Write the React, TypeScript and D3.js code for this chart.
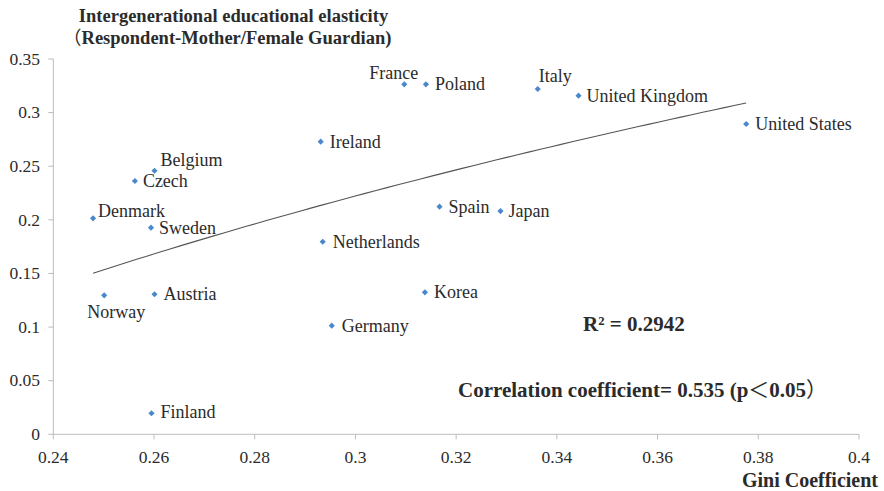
import React from "react";
import * as d3 from "d3";

// Countries with their Gini coefficient and intergenerational educational elasticity
const countries = [
  "France", "Poland", "Italy", "United Kingdom", "United States", "Ireland",
  "Belgium", "Czech", "Denmark", "Sweden", "Norway", "Austria",
  "Spain", "Japan", "Netherlands", "Korea", "Germany", "Finland",
];
const gini = [
  0.3097, 0.314, 0.3362, 0.3443, 0.3776, 0.2931,
  0.2601, 0.2562, 0.2479, 0.2594, 0.2501, 0.2601,
  0.3167, 0.3288, 0.2935, 0.3138, 0.2953, 0.2595,
];
const elasticity = [
  0.3264, 0.3264, 0.322, 0.3158, 0.2894, 0.2729,
  0.2458, 0.2362, 0.2014, 0.1927, 0.1296, 0.1306,
  0.2123, 0.2082, 0.1796, 0.1324, 0.1013, 0.0196,
];

const xTicks = [0.24, 0.26, 0.28, 0.3, 0.32, 0.34, 0.36, 0.38, 0.4];
const yTicks = [0, 0.05, 0.1, 0.15, 0.2, 0.25, 0.3, 0.35];

const titleLine1 = "Intergenerational educational elasticity";
const titleLine2 = ["（", "Respondent-Mother/Female Guardian)"];
const xTitle = "Gini Coefficient";
const rSquaredText = "R² = 0.2942";
const correlationParts = ["Correlation coefficient= 0.535 (p", "＜", "0.05", "）"];

// Where each country's label sits relative to its marker
const labelPlacement: Record<string, { dx: number; dy: number; anchor: string }> = {
  France: { dx: 14, dy: -5, anchor: "end" },
  Poland: { dx: 9, dy: 6, anchor: "start" },
  Italy: { dx: 1, dy: -7, anchor: "start" },
  "United Kingdom": { dx: 8, dy: 6, anchor: "start" },
  "United States": { dx: 9, dy: 6, anchor: "start" },
  Ireland: { dx: 9, dy: 6, anchor: "start" },
  Belgium: { dx: 6, dy: -5, anchor: "start" },
  Czech: { dx: 8, dy: 6, anchor: "start" },
  Denmark: { dx: 5, dy: -1, anchor: "start" },
  Sweden: { dx: 8, dy: 6, anchor: "start" },
  Norway: { dx: -17, dy: 23, anchor: "start" },
  Austria: { dx: 9, dy: 6, anchor: "start" },
  Spain: { dx: 9, dy: 6, anchor: "start" },
  Japan: { dx: 8, dy: 6, anchor: "start" },
  Netherlands: { dx: 10, dy: 6, anchor: "start" },
  Korea: { dx: 9, dy: 6, anchor: "start" },
  Germany: { dx: 10, dy: 6, anchor: "start" },
  Finland: { dx: 9, dy: 5, anchor: "start" },
};

const W = 884;
const H = 491;
const FONT = "Liberation Serif, DejaVu Serif, serif";
const CJK = "Noto Sans CJK SC, sans-serif";
const TEXT = "#2b2b2b";
const AXIS = "#bcbcbc";
const MARKER = "#4a88cc";

export default function App() {
  const x = d3.scaleLinear().domain([0.24, 0.4]).range([53.3, 859]);
  const y = d3.scaleLinear().domain([0, 0.35]).range([434.3, 59]);

  const points = countries.map((name, i) => ({ name, gx: gini[i], ey: elasticity[i] }));

  // Logarithmic trend line: elasticity = a * ln(gini) + b (least squares)
  const lx = points.map((p) => Math.log(p.gx));
  const mx = d3.mean(lx) as number;
  const my = d3.mean(points, (p) => p.ey) as number;
  let sxy = 0;
  let sxx = 0;
  points.forEach((p, i) => {
    sxy += (lx[i] - mx) * (p.ey - my);
    sxx += (lx[i] - mx) ** 2;
  });
  const a = sxy / sxx;
  const b = my - a * mx;
  const [gMin, gMax] = d3.extent(gini) as [number, number];
  const trendPts = d3.range(0, 61).map((k) => {
    const g = gMin + ((gMax - gMin) * k) / 60;
    return [g, a * Math.log(g) + b] as [number, number];
  });
  const trendPath = d3
    .line<[number, number]>()
    .x((d) => x(d[0]))
    .y((d) => y(d[1]))(trendPts) as string;

  const marker = d3.symbol().type(d3.symbolSquare).size(19)() as string;
  const fmt = (v: number) => String(+v.toFixed(2));

  const x0 = x.range()[0];
  const x1 = x.range()[1];
  const y0 = y.range()[0];
  const y1 = y.range()[1];

  return (
    <svg
      width={W}
      height={H}
      style={{ position: "absolute", left: 0, top: 0, background: "#fff", fontFamily: FONT }}
    >
      <rect width={W} height={H} fill="#fff" />
      {/* title */}
      <text x={233.5} y={22} textAnchor="middle" fontWeight="bold" fontSize={18.5} fill={TEXT}>
        {titleLine1}
      </text>
      <text x={63} y={44} fontWeight="bold" fontSize={18.5} fill={TEXT}>
        <tspan fontFamily={CJK} fontWeight="normal">{titleLine2[0]}</tspan>
        <tspan>{titleLine2[1]}</tspan>
      </text>

      {/* axes */}
      <line x1={x0} x2={x0} y1={y1} y2={y0} stroke={AXIS} strokeWidth={1} />
      <line x1={x0} x2={x1} y1={y0} y2={y0} stroke={AXIS} strokeWidth={1} />
      {yTicks.map((t) => (
        <g key={"y" + t}>
          <line x1={x0 - 5} x2={x0} y1={y(t)} y2={y(t)} stroke={AXIS} />
          <text x={40} y={y(t)} dy="0.33em" textAnchor="end" fontSize={17.5} fill={TEXT}>
            {fmt(t)}
          </text>
        </g>
      ))}
      {xTicks.map((t) => (
        <g key={"x" + t}>
          <line x1={x(t)} x2={x(t)} y1={y0} y2={y0 + 5} stroke={AXIS} />
          <text x={x(t)} y={463} textAnchor="middle" fontSize={17.5} fill={TEXT}>
            {fmt(t)}
          </text>
        </g>
      ))}
      <text x={878} y={487} textAnchor="end" fontWeight="bold" fontSize={20} fill={TEXT}>
        {xTitle}
      </text>

      {/* trend line */}
      <path d={trendPath} fill="none" stroke="#555" strokeWidth={1.1} />

      {/* markers and labels */}
      {points.map((p) => {
        const pl = labelPlacement[p.name];
        const px = x(p.gx);
        const py = y(p.ey);
        return (
          <g key={p.name}>
            <path d={marker} transform={`translate(${px},${py}) rotate(45)`} fill={MARKER} />
            <text
              x={px + pl.dx}
              y={py + pl.dy}
              textAnchor={pl.anchor}
              fontSize={18}
              fill={TEXT}
            >
              {p.name}
            </text>
          </g>
        );
      })}

      {/* fit statistics */}
      <text x={583} y={331} fontWeight="bold" fontSize={21} fill={TEXT}>
        {rSquaredText}
      </text>
      <text x={458} y={397} fontWeight="bold" fontSize={21} fill={TEXT}>
        <tspan>{correlationParts[0]}</tspan>
        <tspan fontFamily={CJK} fontWeight="normal">{correlationParts[1]}</tspan>
        <tspan>{correlationParts[2]}</tspan>
        <tspan fontFamily={CJK} fontWeight="normal">{correlationParts[3]}</tspan>
      </text>
    </svg>
  );
}
